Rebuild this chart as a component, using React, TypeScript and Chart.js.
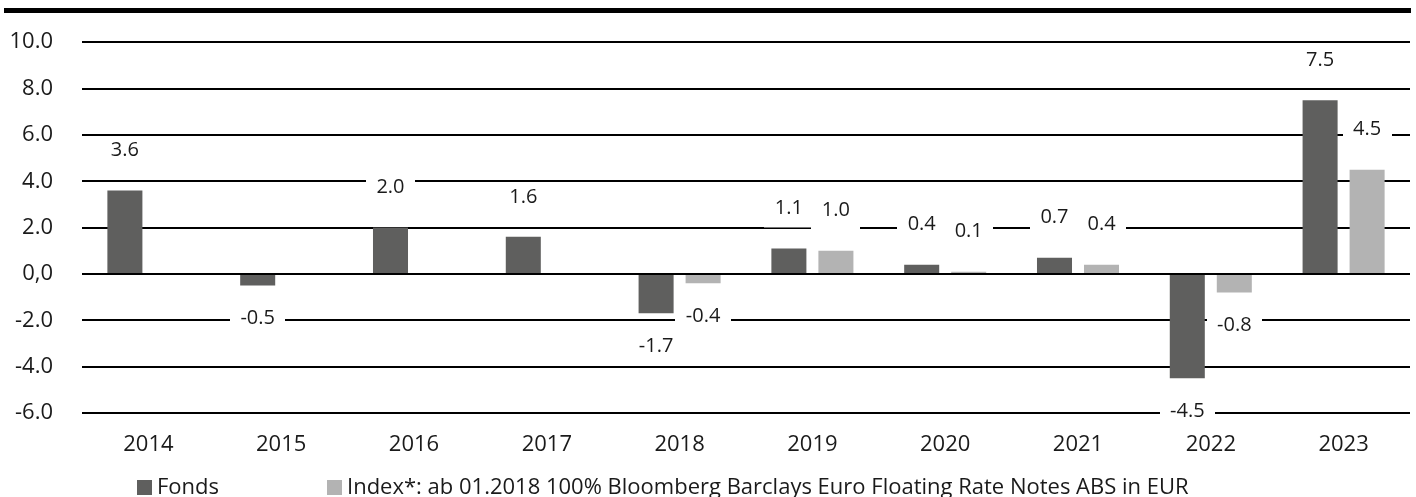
import React, { useEffect, useRef } from "react";
import { Chart, registerables } from "chart.js";

Chart.register(...registerables);

const years = ["2014", "2015", "2016", "2017", "2018", "2019", "2020", "2021", "2022", "2023"];
const fondsValues: (number | null)[] = [3.6, -0.5, 2.0, 1.6, -1.7, 1.1, 0.4, 0.7, -4.5, 7.5];
const indexValues: (number | null)[] = [null, null, null, null, -0.4, 1.0, 0.1, 0.4, -0.8, 4.5];
const fondsLabel = "Fonds";
const indexLabel = "Index*: ab 01.2018 100% Bloomberg Barclays Euro Floating Rate Notes ABS in EUR";
const yMin = -6;
const yMax = 10;
const yStep = 2;

const FONT = "'Open Sans', 'Noto Sans', sans-serif";
const TEXT = "#1a1a1a";
const DARK = "#5f5f5e";
const LIGHT = "#b3b3b3";

const topRule = {
  id: "topRule",
  beforeDraw(chart: any) {
    const ctx = chart.ctx;
    ctx.save();
    ctx.fillStyle = "#000";
    ctx.fillRect(4, 8, chart.width - 9, 5);
    ctx.restore();
  },
};

const valueLabels = {
  id: "valueLabels",
  afterDatasetsDraw(chart: any) {
    const ctx = chart.ctx;
    ctx.save();
    ctx.font = `20px ${FONT}`;
    ctx.textAlign = "center";
    ctx.textBaseline = "middle";
    chart.data.datasets.forEach((ds: any, di: number) => {
      const meta = chart.getDatasetMeta(di);
      meta.data.forEach((el: any, i: number) => {
        const v = ds.data[i];
        if (v === null || v === undefined) return;
        const txt = v.toFixed(1);
        const y = v >= 0 ? el.y - 40 : el.y + 33;
        const w = ctx.measureText(txt).width;
        const left = Math.floor(el.x - w / 2 - 10);
        const right = Math.ceil(el.x + w / 2 + 10);
        ctx.fillStyle = "#fff";
        ctx.fillRect(left, y - 12, right - left, 31);
        ctx.fillStyle = TEXT;
        ctx.fillText(txt, el.x, y);
      });
    });
    ctx.restore();
  },
};

const bottomLegend = {
  id: "bottomLegend",
  afterDraw(chart: any) {
    const ctx = chart.ctx;
    const starts = [137, 327];
    ctx.save();
    ctx.font = `22px ${FONT}`;
    ctx.textBaseline = "alphabetic";
    ctx.textAlign = "left";
    chart.data.datasets.forEach((ds: any, i: number) => {
      const x = starts[i];
      ctx.fillStyle = ds.backgroundColor;
      ctx.fillRect(x, 480, 15, 15);
      ctx.fillStyle = TEXT;
      ctx.fillText(ds.label, x + 20, 494);
    });
    ctx.restore();
  },
};

export default function App() {
  const ref = useRef<HTMLCanvasElement>(null);
  useEffect(() => {
    if (!ref.current) return;
    const chart = new Chart(ref.current, {
      type: "bar",
      data: {
        labels: years,
        datasets: [
          { label: fondsLabel, data: fondsValues, backgroundColor: DARK, categoryPercentage: 0.708, barPercentage: 0.745 },
          { label: indexLabel, data: indexValues, backgroundColor: LIGHT, categoryPercentage: 0.708, barPercentage: 0.745 },
        ],
      },
      options: {
        responsive: false,
        animation: false,
        layout: { padding: { top: 40, left: 0, right: 6, bottom: 0 } },
        plugins: { legend: { display: false }, tooltip: { enabled: false } },
        scales: {
          x: {
            grid: { display: false, drawTicks: false },
            border: { display: false },
            ticks: { color: TEXT, font: { family: FONT, size: 22 }, padding: 19, maxRotation: 0 },
            afterFit: (s: any) => { s.height = 84; },
          },
          y: {
            min: yMin,
            max: yMax,
            grid: { color: "#000", lineWidth: 2, drawTicks: false },
            border: { display: false },
            ticks: {
              stepSize: yStep,
              color: TEXT,
              font: { family: FONT, size: 22 },
              padding: 29,
              callback: (v: any) => (Number(v) === 0 ? "0,0" : Number(v).toFixed(1)),
            },
            afterFit: (s: any) => { s.width = 82; },
          },
        },
      },
      plugins: [topRule, valueLabels, bottomLegend],
    });
    return () => chart.destroy();
  }, []);
  return (
    <div style={{ position: "fixed", left: 0, top: 0, width: 1416, height: 497, background: "#fff" }}>
      <canvas ref={ref} width={1416} height={497} style={{ display: "block" }} />
    </div>
  );
}
